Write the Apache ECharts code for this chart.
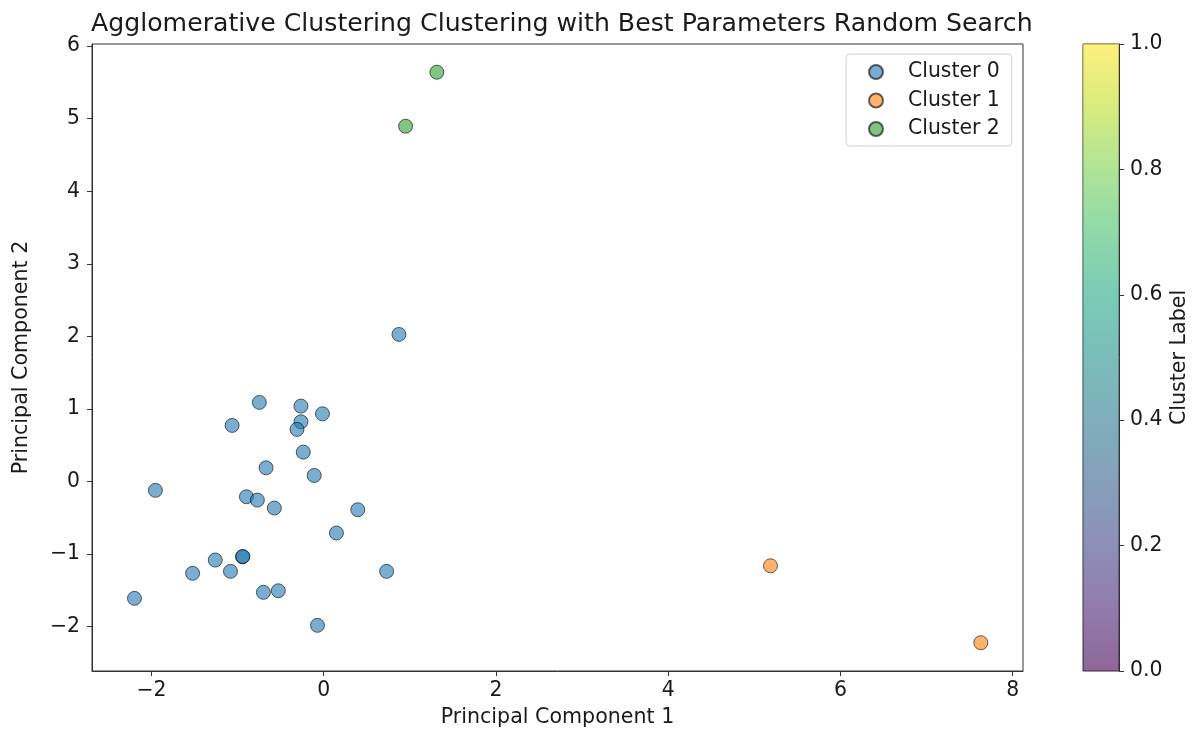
<!DOCTYPE html>
<html>
<head>
<meta charset="utf-8">
<script src="https://cdn.jsdelivr.net/npm/echarts@6/dist/echarts.min.js"></script>
<style>
  html, body { margin: 0; padding: 0; background: #fff; }
  #chart { width: 1196px; height: 733px; }
</style>
</head>
<body>
<div id="chart"></div>
<script>
// PCA projection of the samples, split by agglomerative cluster label
const cluster0X = [-0.747, -0.264, -0.014, -1.063, -0.264, -0.310, -0.237, -0.669, -0.110, -1.954,
                   -0.897, -0.770, -0.573, 0.396, 0.148, -0.943, -0.938, -1.259, -1.522, -1.082,
                   0.731, -0.700, -0.527, -2.197, -0.072, 0.874];
const cluster0Y = [1.091, 1.040, 0.934, 0.774, 0.824, 0.719, 0.406, 0.190, 0.085, -0.121,
                   -0.209, -0.255, -0.365, -0.388, -0.709, -1.036, -1.032, -1.081, -1.264, -1.237,
                   -1.237, -1.526, -1.504, -1.609, -1.981, 2.028];
const cluster1X = [5.188, 7.630];
const cluster1Y = [-1.160, -2.220];
const cluster2X = [1.314, 0.951];
const cluster2Y = [5.641, 4.897];

const clusterNames = ['Cluster 0', 'Cluster 1', 'Cluster 2'];
const clusterColors = ['#1f77b4', '#ff7f0e', '#2ca02c'];

const xTicks = [-2, 0, 2, 4, 6, 8];
const yTicks = [-2, -1, 0, 1, 2, 3, 4, 5, 6];
const barTicks = [0, 0.2, 0.4, 0.6, 0.8, 1.0];

// viridis stops for the colour bar (bottom -> top)
const viridis = ['#440154', '#482475', '#414487', '#355f8d', '#2a788e', '#21918c',
                 '#22a884', '#44bf70', '#7ad151', '#bddf26', '#fde725'];

const FONT = 'DejaVu Sans';
const TXT = '#1a1a1a';
const minus = v => String(v).replace('-', '\u2212');

function pairs(xs, ys) { return xs.map((x, i) => [x, ys[i]]); }

function hexA(hex, a) {
  const n = parseInt(hex.slice(1), 16);
  return 'rgba(' + (n >> 16) + ',' + ((n >> 8) & 255) + ',' + (n & 255) + ',' + a + ')';
}

const seriesData = [pairs(cluster0X, cluster0Y), pairs(cluster1X, cluster1Y), pairs(cluster2X, cluster2Y)];

const scatterSeries = seriesData.map((d, i) => ({
  name: clusterNames[i],
  type: 'scatter',
  xAxisIndex: 0,
  yAxisIndex: 0,
  data: d,
  symbolSize: 14,
  itemStyle: { color: clusterColors[i], borderColor: '#000', borderWidth: 1, opacity: 0.6 },
  emphasis: { disabled: true }
}));

const axisLineStyle = { show: true, onZero: false, lineStyle: { color: '#333', width: 1 } };

const chart = echarts.init(document.getElementById('chart'), null, { renderer: 'canvas' });

chart.setOption({
  animation: false,
  backgroundColor: '#fff',
  title: {
    text: 'Agglomerative Clustering Clustering with Best Parameters Random Search',
    left: 86,
    top: 7,
    textStyle: { fontFamily: FONT, fontSize: 25.2, fontWeight: 'normal', color: TXT }
  },
  legend: {
    data: clusterNames,
    orient: 'vertical',
    left: 846,
    top: 54,
    padding: [8, 12, 7, 22],
    itemGap: 8.5,
    itemWidth: 14,
    itemHeight: 14,
    icon: 'circle',
    borderColor: '#d0d0d0',
    borderWidth: 1,
    borderRadius: 4,
    backgroundColor: 'rgba(255,255,255,0.8)',
    textStyle: { fontFamily: FONT, fontSize: 20.4, color: TXT, padding: [0, 0, 0, 20] }
  },
  grid: [
    { left: 92, top: 44, width: 931, height: 627, show: true, borderColor: '#333', borderWidth: 1, backgroundColor: 'transparent' },
    { left: 1083, top: 44, width: 36, height: 627, show: true, borderColor: '#333', borderWidth: 1, backgroundColor: 'transparent' }
  ],
  xAxis: [
    {
      type: 'value', gridIndex: 0, min: -2.69, max: 8.12,
      name: 'Principal Component 1', nameLocation: 'middle', nameGap: 36,
      nameTextStyle: { fontFamily: FONT, fontSize: 20.6, color: TXT },
      axisLine: axisLineStyle,
      axisTick: { show: true, inside: false, length: 5, lineStyle: { color: '#333' }, customValues: xTicks },
      axisLabel: { fontFamily: FONT, fontSize: 20.4, color: TXT, margin: 10, customValues: xTicks, formatter: minus },
      splitLine: { show: false }
    },
    {
      type: 'category', gridIndex: 1, data: ['bar'], show: false
    }
  ],
  yAxis: [
    {
      type: 'value', gridIndex: 0, min: -2.61, max: 6.03,
      name: 'Principal Component 2', nameLocation: 'middle', nameGap: 60, nameRotate: 90,
      nameTextStyle: { fontFamily: FONT, fontSize: 20.6, color: TXT },
      axisLine: axisLineStyle,
      axisTick: { show: true, inside: false, length: 5, lineStyle: { color: '#333' }, customValues: yTicks },
      axisLabel: { fontFamily: FONT, fontSize: 20.4, color: TXT, margin: 12, customValues: yTicks, formatter: minus },
      splitLine: { show: false }
    },
    {
      type: 'value', gridIndex: 1, min: 0, max: 1, position: 'right',
      name: 'Cluster Label', nameLocation: 'middle', nameGap: 50, nameRotate: 90,
      nameTextStyle: { fontFamily: FONT, fontSize: 20.6, color: TXT },
      axisLine: axisLineStyle,
      axisTick: { show: true, inside: false, length: 5, lineStyle: { color: '#333' }, customValues: barTicks },
      axisLabel: { fontFamily: FONT, fontSize: 20.4, color: TXT, margin: 11, customValues: barTicks, formatter: v => v.toFixed(1) },
      splitLine: { show: false }
    }
  ],
  series: scatterSeries.concat([{
    type: 'bar',
    xAxisIndex: 1,
    yAxisIndex: 1,
    data: [1],
    barWidth: '100%',
    silent: true,
    itemStyle: {
      color: {
        type: 'linear', x: 0, y: 1, x2: 0, y2: 0,
        colorStops: viridis.map((c, i) => ({ offset: i / (viridis.length - 1), color: hexA(c, 0.6) }))
      }
    }
  }])
});
</script>
</body>
</html>
